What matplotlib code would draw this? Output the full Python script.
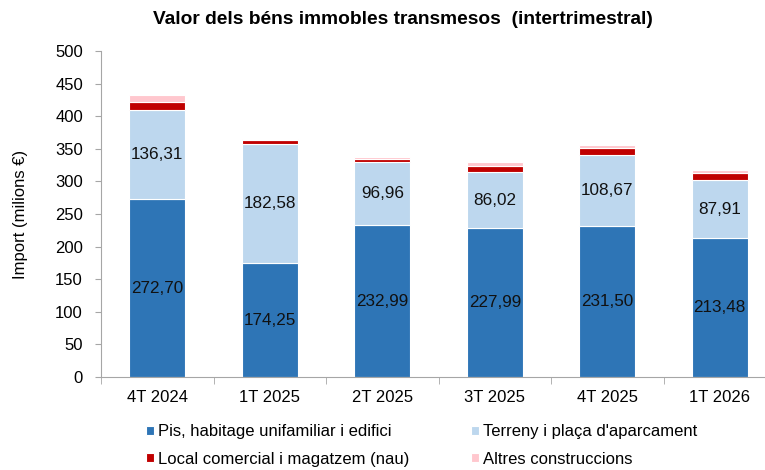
import matplotlib.pyplot as plt
import numpy as np

plt.rcParams['font.family'] = ['Liberation Sans', 'DejaVu Sans']

# 数据
quarters = ['4T 2024', '1T 2025', '2T 2025', '3T 2025', '4T 2025', '1T 2026']
pis = [272.70, 174.25, 232.99, 227.99, 231.50, 213.48]
terreny = [136.31, 182.58, 96.96, 86.02, 108.67, 87.91]
local = [13.3, 6.0, 4.0, 10.0, 11.5, 12.0]
altres = [10.5, 2.5, 4.0, 6.0, 4.5, 3.5]

series = [
    ('Pis, habitage unifamiliar i edifici', pis, '#2E75B6'),
    ('Terreny i plaça d\'aparcament', terreny, '#BDD7EE'),
    ('Local comercial i magatzem (nau)', local, '#C00000'),
    ('Altres construccions', altres, '#FFC7CE'),
]

fig = plt.figure(figsize=(7.65, 4.7), dpi=100)
ax = fig.add_axes([101/765, 1 - 377/470, 675/765, 326/470])

x = np.arange(len(quarters))
bottom = np.zeros(len(quarters))
handles = {}
for name, vals, col in series:
    bars = ax.bar(x, vals, 0.5, bottom=bottom, color=col, edgecolor='white',
                  linewidth=0.8, label=name)
    handles[name] = bars
    bottom += np.array(vals)

# 标签
for i in range(len(quarters)):
    ax.text(x[i], pis[i] / 2, f'{pis[i]:.2f}'.replace('.', ','),
            ha='center', va='center', fontsize=12.3, color='#111111')
    ax.text(x[i], pis[i] + terreny[i] / 2, f'{terreny[i]:.2f}'.replace('.', ','),
            ha='center', va='center', fontsize=12.3, color='#111111')

ax.set_xlim(-0.5, len(quarters) - 0.5)
ax.set_ylim(0, 500)
ax.set_yticks(np.arange(0, 501, 50))
ax.set_xticks(x)
ax.set_xticklabels(quarters)
ax.set_xticks(np.arange(-0.5, len(quarters), 1), minor=True)
ax.tick_params(axis='x', which='major', length=0, pad=9, labelsize=12)
ax.tick_params(axis='x', which='minor', length=5, color='#a6a6a6')
ax.tick_params(axis='y', length=4, color='#a6a6a6', labelsize=12, pad=9)

for s in ['top', 'right']:
    ax.spines[s].set_visible(False)
for s in ['left', 'bottom']:
    ax.spines[s].set_color('#a6a6a6')

ax.set_ylabel('Import (milions €)', fontsize=12)
ax.yaxis.set_label_coords(-0.108, 0.5)
fig.text(0.527, 0.9585, 'Valor dels béns immobles transmesos  (intertrimestral)',
         ha='center', va='center', fontsize=13.8, fontweight='bold')

order = [series[0][0], series[2][0], series[1][0], series[3][0]]
fig.legend([handles[n] for n in order], order, loc='upper left',
           bbox_to_anchor=(138/765, 1 - 416/470), ncol=2, frameon=False,
           fontsize=12, handlelength=0.45, handleheight=0.45, handletextpad=0.25,
           columnspacing=3.7, labelspacing=0.75, borderpad=0)

fig.savefig('out.png', dpi=100)
